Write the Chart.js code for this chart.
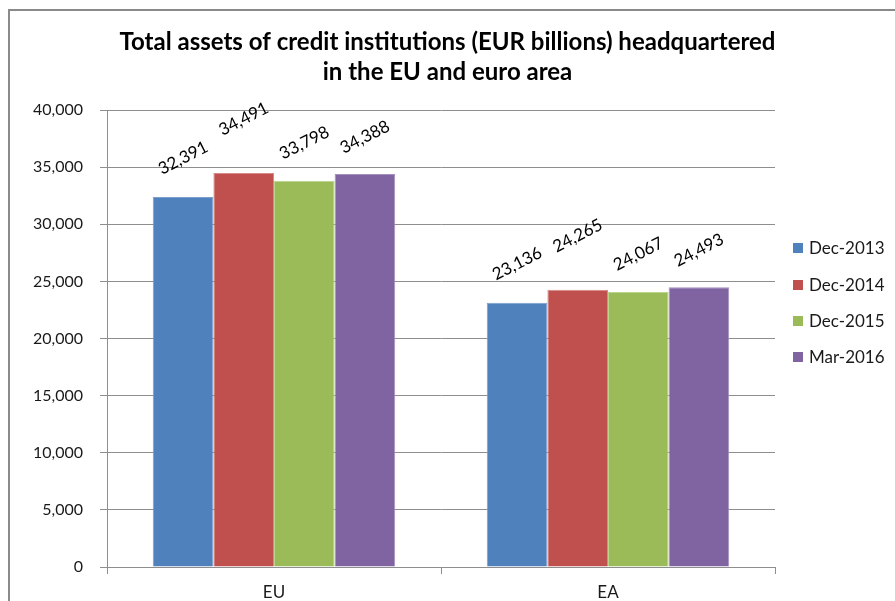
<!DOCTYPE html>
<html>
<head>
<meta charset="utf-8">
<script src="https://cdn.jsdelivr.net/npm/chart.js@4.4.1/dist/chart.umd.min.js"></script>
<style>
  html, body { margin: 0; padding: 0; background: #fff; }
  #wrap { position: relative; width: 895px; height: 601px; overflow: hidden; }
  #frame { position: absolute; left: 8px; top: 9px; width: 900px; height: 600px;
           border-left: 2px solid #8a8a8a; border-top: 2px solid #8a8a8a; }
  canvas { position: absolute; left: 0; top: 0; }
</style>
</head>
<body>
<div id="wrap">
  <div id="frame"></div>
  <canvas id="c" width="895" height="601"></canvas>
</div>
<script>
const titleLines = ['Total assets of credit institutions (EUR billions) headquartered', 'in the EU and euro area'];
const categories = ['EU', 'EA'];
const seriesNames = ['Dec-2013', 'Dec-2014', 'Dec-2015', 'Mar-2016'];
const dec2013 = [32391, 23136];
const dec2014 = [34491, 24265];
const dec2015 = [33798, 24067];
const mar2016 = [34388, 24493];
const yTicksMin = 0, yTicksMax = 40000, yTicksStep = 5000;

const seriesValues = [dec2013, dec2014, dec2015, mar2016];
const colors = ['#4F81BD', '#C0504D', '#9BBB59', '#8064A2'];
const borders = ['#7a9fd0', '#d88a88', '#bcd48e', '#a48fbf'];
const labelLift = [39, 54, 38, 37];

const FONT = 'Lato, "Open Sans", sans-serif';
Chart.defaults.font.family = FONT;
Chart.defaults.color = '#1a1a1a';

const fmt = v => Number(v).toLocaleString('en-US');

const dataLabels = {
  id: 'dataLabels',
  afterDatasetsDraw(chart) {
    const ctx = chart.ctx;
    ctx.save();
    ctx.font = '17px ' + FONT;
    ctx.fillStyle = '#000';
    ctx.textAlign = 'center';
    ctx.textBaseline = 'middle';
    chart.data.datasets.forEach((ds, di) => {
      const meta = chart.getDatasetMeta(di);
      meta.data.forEach((bar, i) => {
        ctx.save();
        ctx.translate(bar.x, bar.y - labelLift[di]);
        ctx.rotate(-27 * Math.PI / 180);
        ctx.fillText(fmt(ds.data[i]), 0, 0);
        ctx.restore();
      });
    });
    ctx.restore();
  }
};

const sideLegend = {
  id: 'sideLegend',
  afterDraw(chart) {
    const ctx = chart.ctx;
    const x = chart.chartArea.right + 18;
    const ys = [248, 285, 321, 357];
    ctx.save();
    ctx.font = '17px ' + FONT;
    ctx.textBaseline = 'middle';
    ctx.textAlign = 'left';
    chart.data.datasets.forEach((ds, di) => {
      ctx.fillStyle = ds.backgroundColor;
      ctx.fillRect(x, ys[di] - 5, 10, 10);
      ctx.fillStyle = '#1a1a1a';
      ctx.fillText(ds.label, x + 16, ys[di] + 1);
    });
    ctx.restore();
  }
};

new Chart(document.getElementById('c'), {
  type: 'bar',
  data: {
    labels: categories,
    datasets: seriesNames.map((name, i) => ({
      label: name,
      data: seriesValues[i],
      backgroundColor: colors[i],
      borderColor: borders[i],
      borderWidth: 1,
      categoryPercentage: 0.726,
      barPercentage: 1.0
    }))
  },
  options: {
    responsive: false,
    animation: false,
    devicePixelRatio: 1,
    layout: { padding: { left: 0, right: 0, top: 27, bottom: 0 } },
    plugins: {
      legend: { display: false },
      tooltip: { enabled: false },
      title: {
        display: true,
        text: titleLines,
        color: '#000',
        font: { family: FONT, size: 24, weight: 'bold', lineHeight: 1.25 },
        padding: { top: 0, bottom: 23 }
      }
    },
    scales: {
      x: {
        grid: { drawOnChartArea: false, tickLength: 7, offset: true, color: '#8e8e8e' },
        border: { display: true, color: '#8e8e8e' },
        ticks: { font: { size: 17 }, padding: 8, color: '#1a1a1a' },
        afterFit(scale) { scale.height = 34; }
      },
      y: {
        min: yTicksMin,
        max: yTicksMax,
        grid: { color: '#8e8e8e', tickLength: 7 },
        border: { display: true, color: '#8e8e8e' },
        ticks: { stepSize: yTicksStep, font: { size: 16 }, padding: 17, color: '#1a1a1a', callback: v => fmt(v) },
        afterFit(scale) { scale.width = 107; }
      },
      legendSpace: {
        position: 'right',
        type: 'linear',
        min: 0,
        max: 1,
        display: true,
        grid: { display: false, drawTicks: false },
        border: { display: false },
        ticks: { display: false },
        afterFit(scale) { scale.width = 120; }
      }
    }
  },
  plugins: [dataLabels, sideLegend]
});
</script>
</body>
</html>
